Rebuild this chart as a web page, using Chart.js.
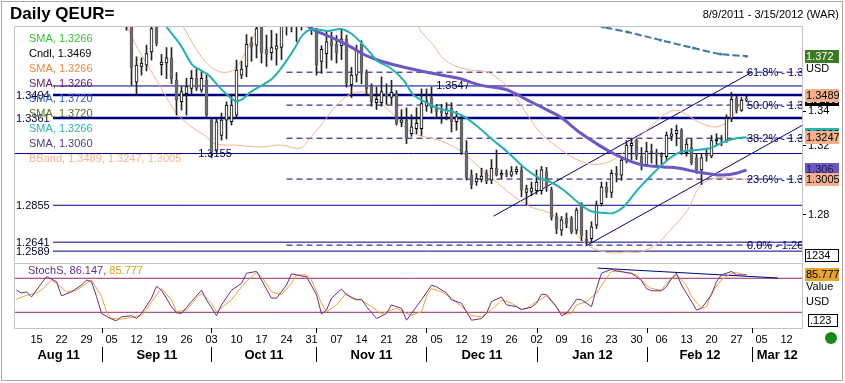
<!DOCTYPE html>
<html>
<head>
<meta charset="utf-8">
<script src="https://cdn.jsdelivr.net/npm/chart.js@4.4.1/dist/chart.umd.min.js"></script>
<style>
html, body { margin: 0; padding: 0; background: #fff; }
#wrap { position: relative; width: 845px; height: 383px; overflow: hidden; background: #fff; }
#main { position: absolute; left: 0; top: 0; }
#stoch { position: absolute; left: 0; top: 262px; }
#frame { position: absolute; left: 1px; top: 1px; width: 842px; height: 380px; box-sizing: border-box; border: 1px solid #a8a8a8; pointer-events: none; }
</style>
</head>
<body>
<div id="wrap">
  <canvas id="main" width="845" height="262"></canvas>
  <canvas id="stoch" width="845" height="121"></canvas>
  <div id="frame"></div>
</div>
<script>
// trading day index: 0 = Tue 9 Aug 2011 ... 157 = Thu 15 Mar 2012
const firstCandleDay = 22;
const opens = [
  1.4050, 1.3930, 1.3569, 1.3660, 1.3668, 1.3745, 1.3900, 1.3670, 1.3680, 1.3710,
  1.3581, 1.3456, 1.3502, 1.3533, 1.3592, 1.3523, 1.3581, 1.3349, 1.3175, 1.3260,
  1.3349, 1.3340, 1.3378, 1.3610, 1.3660, 1.3800, 1.3784, 1.3900, 1.3760, 1.3740,
  1.3760, 1.3770, 1.3910, 1.3930, 1.3900, 1.3910, 1.4150, 1.4140, 1.3860, 1.3690,
  1.3735, 1.3810, 1.3790, 1.3780, 1.3820, 1.3555, 1.3610, 1.3790, 1.3625, 1.3543,
  1.3450, 1.3450, 1.3500, 1.3480, 1.3505, 1.3335, 1.3349, 1.3270, 1.3300, 1.3300,
  1.3430, 1.3480, 1.3420, 1.3400, 1.3385, 1.3420, 1.3340, 1.3355, 1.3170, 1.3030,
  1.2990, 1.3005, 1.3040, 1.3000, 1.3070, 1.3030, 1.3040, 1.3030, 1.3050, 1.3059,
  1.2930, 1.2935, 1.2940, 1.2940, 1.3050, 1.2945, 1.2790, 1.2710, 1.2780, 1.2780,
  1.2711, 1.2860, 1.2660, 1.2662, 1.2740, 1.2865, 1.2960, 1.2930, 1.3040, 1.3030,
  1.3117, 1.3200, 1.3230, 1.3140, 1.3090, 1.3170, 1.3160, 1.3150, 1.3137, 1.3255,
  1.3270, 1.3290, 1.3160, 1.3190, 1.3130, 1.3060, 1.3150, 1.3140, 1.3230, 1.3240,
  1.3233, 1.3360, 1.3475, 1.3405, 1.3465
];
const highs = [
  1.4120, 1.3980, 1.3716, 1.3710, 1.3784, 1.3900, 1.3920, 1.3730, 1.3770, 1.3770,
  1.3625, 1.3543, 1.3592, 1.3637, 1.3650, 1.3630, 1.3610, 1.3365, 1.3358, 1.3390,
  1.3455, 1.3495, 1.3697, 1.3690, 1.3845, 1.3830, 1.3900, 1.3920, 1.3842, 1.3870,
  1.3850, 1.3960, 1.3990, 1.3990, 1.3960, 1.4247, 1.4170, 1.4160, 1.3880, 1.3780,
  1.3870, 1.3860, 1.3840, 1.3880, 1.3842, 1.3655, 1.3784, 1.3810, 1.3640, 1.3560,
  1.3540, 1.3600, 1.3560, 1.3580, 1.3520, 1.3410, 1.3420, 1.3380, 1.3420, 1.3530,
  1.3530, 1.3540, 1.3440, 1.3440, 1.3450, 1.3450, 1.3400, 1.3380, 1.3230, 1.3060,
  1.3040, 1.3070, 1.3060, 1.3120, 1.3175, 1.3060, 1.3060, 1.3080, 1.3080, 1.3080,
  1.2972, 1.2990, 1.3060, 1.3080, 1.3075, 1.2960, 1.2810, 1.2790, 1.2810, 1.2790,
  1.2840, 1.2870, 1.2710, 1.2760, 1.2880, 1.2990, 1.2990, 1.3060, 1.3080, 1.3130,
  1.3230, 1.3240, 1.3240, 1.3190, 1.3220, 1.3210, 1.3180, 1.3160, 1.3280, 1.3300,
  1.3320, 1.3300, 1.3240, 1.3240, 1.3150, 1.3150, 1.3180, 1.3260, 1.3270, 1.3260,
  1.3380, 1.3510, 1.3490, 1.3480, 1.3490
];
const lows = [
  1.3870, 1.3552, 1.3494, 1.3610, 1.3634, 1.3697, 1.3780, 1.3610, 1.3590, 1.3560,
  1.3378, 1.3407, 1.3378, 1.3502, 1.3520, 1.3510, 1.3368, 1.3130, 1.3160, 1.3233,
  1.3240, 1.3320, 1.3368, 1.3590, 1.3600, 1.3690, 1.3710, 1.3680, 1.3660, 1.3697,
  1.3668, 1.3700, 1.3842, 1.3860, 1.3803, 1.3871, 1.4100, 1.3845, 1.3610, 1.3620,
  1.3650, 1.3697, 1.3680, 1.3700, 1.3540, 1.3480, 1.3570, 1.3560, 1.3500, 1.3430,
  1.3410, 1.3430, 1.3440, 1.3440, 1.3320, 1.3310, 1.3213, 1.3255, 1.3270, 1.3260,
  1.3400, 1.3390, 1.3360, 1.3330, 1.3350, 1.3280, 1.3290, 1.3150, 1.3001, 1.2950,
  1.2970, 1.2990, 1.2980, 1.2980, 1.3025, 1.3010, 1.3020, 1.3020, 1.3035, 1.2905,
  1.2856, 1.2910, 1.2920, 1.2920, 1.2935, 1.2769, 1.2690, 1.2680, 1.2725, 1.2690,
  1.2690, 1.2650, 1.2624, 1.2640, 1.2720, 1.2850, 1.2900, 1.2900, 1.2990, 1.3000,
  1.3100, 1.3120, 1.3120, 1.3060, 1.3080, 1.3100, 1.3080, 1.3080, 1.3110, 1.3230,
  1.3200, 1.3150, 1.3140, 1.3090, 1.3040, 1.2975, 1.3110, 1.3130, 1.3200, 1.3200,
  1.3220, 1.3340, 1.3390, 1.3400, 1.3455
];
const closes = [
  1.3930, 1.3655, 1.3668, 1.3680, 1.3735, 1.3880, 1.3794, 1.3685, 1.3710, 1.3590,
  1.3465, 1.3514, 1.3543, 1.3592, 1.3533, 1.3592, 1.3378, 1.3163, 1.3339, 1.3349,
  1.3436, 1.3436, 1.3639, 1.3645, 1.3790, 1.3770, 1.3880, 1.3740, 1.3730, 1.3770,
  1.3780, 1.3910, 1.3930, 1.3900, 1.3910, 1.4150, 1.4140, 1.3880, 1.3668, 1.3760,
  1.3803, 1.3780, 1.3740, 1.3820, 1.3563, 1.3610, 1.3755, 1.3620, 1.3530, 1.3456,
  1.3470, 1.3514, 1.3490, 1.3510, 1.3330, 1.3350, 1.3243, 1.3310, 1.3330, 1.3445,
  1.3460, 1.3420, 1.3400, 1.3390, 1.3410, 1.3340, 1.3370, 1.3160, 1.3015, 1.2975,
  1.3010, 1.3025, 1.2995, 1.3070, 1.3030, 1.3040, 1.3035, 1.3050, 1.3065, 1.2943,
  1.2950, 1.2955, 1.2990, 1.3060, 1.2960, 1.2785, 1.2720, 1.2770, 1.2750, 1.2700,
  1.2827, 1.2680, 1.2650, 1.2730, 1.2856, 1.2962, 1.2930, 1.3040, 1.3030, 1.3117,
  1.3204, 1.3215, 1.3140, 1.3090, 1.3170, 1.3160, 1.3150, 1.3137, 1.3262, 1.3270,
  1.3290, 1.3160, 1.3210, 1.3100, 1.3060, 1.3130, 1.3140, 1.3230, 1.3240, 1.3233,
  1.3360, 1.3470, 1.3405, 1.3465, 1.3469
];

// moving averages and bands, read at points along each curve
const sma20Days = [27, 29.8, 32.8, 35.2, 36.8, 38.4, 40.2, 42.2, 43.8, 45.2, 46.8, 48.8, 50.8, 52.8, 55.4, 57.4, 59.4, 62.2, 64.8, 66.8, 68.8, 70.8, 72.2, 74.8, 77.4, 79.4, 81.4, 84.2, 87.4, 90, 92.8, 94.8, 98.2, 101.4, 104.2, 106.8, 109.4, 112.2, 114.8, 117.8, 119.4, 121.4, 124.2, 127.4, 130.2, 132.8, 136.2, 138.8, 141.4, 144.2, 146];
const sma20Vals = [1.405, 1.3900, 1.3784, 1.3668, 1.3639, 1.3610, 1.3552, 1.3494, 1.3459, 1.3471, 1.3511, 1.3546, 1.3581, 1.3645, 1.3755, 1.3848, 1.3877, 1.3865, 1.3877, 1.3854, 1.3802, 1.3738, 1.3691, 1.3651, 1.3581, 1.3494, 1.3459, 1.3419, 1.3396, 1.3361, 1.3297, 1.3245, 1.3164, 1.3077, 1.3019, 1.2990, 1.2944, 1.2874, 1.2822, 1.2810, 1.2810, 1.2845, 1.2944, 1.3042, 1.3118, 1.3164, 1.3176, 1.3187, 1.3222, 1.3245, 1.3250];
const sma50Days = [54, 58.8, 62.8, 66.2, 70.2, 74.2, 78.2, 82.8, 88.2, 92.8, 98.2, 102.2, 106.2, 108.8, 112.8, 116.8, 118.8, 122.2, 125.4, 129.4, 132.2, 136.2, 138.8, 141.4, 144.2, 146];
const sma50Vals = [1.400, 1.3883, 1.3831, 1.3784, 1.3720, 1.3680, 1.3651, 1.3622, 1.3593, 1.3552, 1.3523, 1.3465, 1.3407, 1.3367, 1.3274, 1.3198, 1.3164, 1.3117, 1.3088, 1.3077, 1.3071, 1.3048, 1.3036, 1.3030, 1.3042, 1.3060];
const sma200Days = [112, 117.4, 122.2, 128.8, 135.4, 140.8, 146];
const sma200Vals = [1.393, 1.3889, 1.3860, 1.3813, 1.3767, 1.3732, 1.3720];
const bbUpDays = [30.5, 33.4, 35.8, 38.2, 40.8, 43.4, 45.8, 48.2, 52, 77, 80.4, 83.4, 85.2, 87.8, 90.8, 94.2, 97.4, 99.8, 102.2, 104.8, 108.2, 111.4, 114.8, 117.8, 120.8, 123.8, 126.8, 129.4, 131.8, 134.2, 136.8, 139.8, 142.2, 144.2, 146];
const bbUpVals = [1.405, 1.3889, 1.3767, 1.3674, 1.3628, 1.3639, 1.3744, 1.3889, 1.425, 1.425, 1.3889, 1.3784, 1.3709, 1.3662, 1.3639, 1.3628, 1.3564, 1.3483, 1.3378, 1.3274, 1.3193, 1.3129, 1.3094, 1.3100, 1.3146, 1.3233, 1.3309, 1.3378, 1.3407, 1.3378, 1.3332, 1.3309, 1.3338, 1.3419, 1.3489];
const bbLoDays = [20, 22.2, 24.2, 26.8, 29.2, 31.8, 34.8, 37.8, 39.8, 43.8, 48.8, 52.8, 56.8, 59.2, 61.2, 63.8, 66.8, 69.8, 72.8, 75.8, 78.8, 81.8, 84.8, 88.8, 92.8, 96.2, 99.8, 102.8, 106.2, 108.8, 111.8, 114.8, 118.8, 121.8, 124.8, 127.8, 130.8, 134.2, 136.8, 139.8, 142.8, 146];
const bbLoVals = [1.400, 1.3883, 1.3767, 1.3639, 1.3523, 1.3396, 1.3314, 1.3257, 1.3210, 1.3204, 1.3193, 1.3204, 1.3187, 1.3262, 1.3330, 1.3430, 1.3500, 1.3510, 1.3450, 1.3370, 1.3280, 1.3250, 1.3230, 1.3170, 1.3070, 1.2984, 1.2900, 1.2845, 1.2816, 1.2769, 1.2690, 1.2613, 1.2578, 1.2584, 1.2584, 1.2624, 1.2711, 1.2827, 1.2972, 1.3013, 1.3013, 1.3005];

// support / resistance levels and Fibonacci retracement
const levelVals = [1.3547, 1.3494, 1.3361, 1.3155, 1.2855, 1.2641, 1.2589];
const levelStartDay = [7.3, 7.3, 7.3, -0.3, 7.3, 7.3, 7.3];
const fibNames = ['61.8%', '50.0%', '38.2%', '23.6%', '0.0%'];
const fibVals = [1.3627, 1.3436, 1.3244, 1.3007, 1.2624];
const fibStartDay = 54;
const upperChannelDays = [95.4, 146.8];
const upperChannelVals = [1.2792, 1.3622];
const lowerChannelDays = [113.8, 157.1];
const lowerChannelVals = [1.2618, 1.3318];
const priceTicks = [1.28, 1.32, 1.34];

// slow stochastic
const kDays = [0, 1, 2, 3, 4, 6, 8, 9, 11, 13, 14, 15, 16, 17, 19, 20, 21, 23, 24, 25, 27, 28, 29, 31, 32, 33, 35, 37, 38, 40, 41, 43, 45, 46, 48, 49, 51, 52, 54, 55, 57, 58, 60, 61, 62, 63, 65, 66, 68, 69, 70, 72, 74, 75, 77, 78, 79, 81, 83, 84, 86, 87, 89, 90, 91, 93, 94, 95, 97, 98, 100, 101, 103, 104, 105, 106, 108, 109, 110, 111, 112, 113, 115, 116, 117, 119, 120, 122, 123, 125, 126, 127, 129, 130, 131, 132, 133, 135, 136, 137, 139, 140, 141, 143, 144, 145, 146];
const kVals = [59, 54, 56, 47, 59, 83, 74, 49, 56, 68, 77, 74, 48, 18, 8, 5, 12, 14, 9, 18, 45, 66, 59, 30, 19, 18, 39, 59, 42, 14, 33, 59, 71, 89, 92, 77, 45, 45, 68, 88, 84, 83, 51, 17, 24, 45, 61, 51, 42, 43, 30, 9, 18, 33, 27, 6, 18, 42, 68, 65, 54, 42, 36, 21, 6, 9, 18, 39, 47, 33, 30, 25, 29, 36, 52, 51, 30, 14, 18, 30, 43, 42, 30, 62, 89, 96, 93, 90, 89, 76, 62, 58, 58, 65, 80, 89, 68, 39, 24, 27, 51, 74, 86, 92, 86, 86, 86.1];
const dDays = [0, 2, 4, 5, 7, 8, 10, 12, 14, 15, 17, 18, 19, 21, 23, 25, 26, 28, 29, 31, 32, 34, 36, 37, 39, 40, 43, 45, 47, 48, 49, 51, 53, 55, 56, 58, 59, 61, 62, 64, 66, 67, 69, 71, 73, 74, 76, 78, 79, 81, 82, 83, 85, 87, 89, 91, 93, 95, 97, 99, 101, 102, 104, 106, 107, 109, 111, 112, 114, 116, 118, 119, 121, 122, 124, 126, 127, 129, 130, 132, 134, 135, 137, 138, 139, 141, 143, 144, 146];
const dVals = [43, 50, 54, 59, 77, 71, 56, 59, 71, 77, 48, 21, 9, 8, 11, 14, 25, 51, 62, 42, 21, 24, 45, 54, 36, 21, 42, 65, 83, 90, 83, 56, 51, 71, 86, 86, 77, 36, 21, 33, 54, 45, 41, 30, 17, 21, 27, 18, 15, 21, 48, 62, 56, 45, 30, 14, 12, 24, 42, 36, 25, 27, 39, 49, 39, 18, 17, 33, 39, 54, 80, 92, 93, 90, 86, 68, 62, 59, 71, 86, 68, 48, 27, 30, 54, 77, 89, 90, 85.8];
const stochLevels = [80, 20];
const stochTrendDays = [116.2, 152.3];
const stochTrendVals = [98, 80.5];

// axis labels
const tickDays = [4, 9, 14, 19, 24, 29, 34, 39, 44, 49, 54, 59, 64, 69, 74, 79, 84, 89, 94, 99, 104, 109, 114, 119, 124, 129, 134, 139, 144, 149, 154];
const tickLabels = ['15', '22', '29', '05', '12', '19', '26', '03', '10', '17', '24', '31', '07', '14', '21', '28', '05', '12', '19', '26', '02', '09', '16', '23', '30', '06', '13', '20', '27', '05', '12'];
const monthStartDays = [17, 39, 60, 82, 104, 126, 147];
const monthLabels = ['Aug 11', 'Sep 11', 'Oct 11', 'Nov 11', 'Dec 11', 'Jan 12', 'Feb 12', 'Mar 12'];

const X_MIN = -0.3, X_MAX = 157.1;
const FONT = "'Liberation Sans', Arial, sans-serif";
const NAVY = '#000080';

function pairs(days, vals) {
    return days.map((d, k) => ({ x: d, y: vals[k] }));
}
function isUp(c) {
    return c.raw && c.raw.y[1] >= c.raw.y[0];
}
// 축 라벨 때문에 생기는 여백 제거
function fixWidth(w) {
    return s => { s.width = w; s.paddingTop = 0; s.paddingBottom = 0; };
}

// 캔들 데이터
const wickData = highs.map((h, k) => ({ x: firstCandleDay + k, y: [lows[k], h] }));
const bodyData = opens.map((o, k) => ({ x: firstCandleDay + k, y: [o, closes[k]] }));

const mainDatasets = [];

// 수평 지지/저항선
levelVals.forEach((v, k) => {
    const thick = (v === 1.3494 || v === 1.3361);
    mainDatasets.push({
        type: 'line', label: 'level' + k, order: 20,
        data: [{ x: levelStartDay[k], y: v }, { x: X_MAX, y: v }],
        borderColor: NAVY, borderWidth: thick ? 2.5 : 1,
        pointRadius: 0, clip: 0,
        isLastLevel: k === levelVals.length - 1
    });
});

// 피보나치 점선
fibVals.forEach((v, k) => {
    mainDatasets.push({
        type: 'line', label: 'fib' + k, order: 19,
        data: [{ x: fibStartDay, y: v }, { x: X_MAX, y: v }],
        borderColor: NAVY, borderWidth: 1, borderDash: [6, 4],
        pointRadius: 0, clip: 0
    });
});

// 채널
mainDatasets.push({
    type: 'line', label: 'chanUp', order: 18,
    data: pairs(upperChannelDays, upperChannelVals),
    borderColor: NAVY, borderWidth: 1, pointRadius: 0, clip: 0
});
mainDatasets.push({
    type: 'line', label: 'chanLo', order: 18,
    data: pairs(lowerChannelDays, lowerChannelVals),
    borderColor: NAVY, borderWidth: 1, pointRadius: 0, clip: 0
});

// 볼린저 밴드
mainDatasets.push({
    type: 'line', label: 'bbUp', order: 7,
    data: pairs(bbUpDays, bbUpVals),
    borderColor: '#f3b28e', borderWidth: 1, pointRadius: 0, tension: 0.3, clip: 0
});
mainDatasets.push({
    type: 'line', label: 'bbLo', order: 7,
    data: pairs(bbLoDays, bbLoVals),
    borderColor: '#f3b28e', borderWidth: 1, pointRadius: 0, tension: 0.3, clip: 0
});

// 캔들 (꼬리 + 몸통)
mainDatasets.push({
    type: 'bar', label: 'wick', order: 6, grouped: false,
    data: wickData, barThickness: 1,
    backgroundColor: '#222222', borderWidth: 0
});
mainDatasets.push({
    type: 'bar', label: 'body', order: 5, grouped: false,
    data: bodyData, barThickness: 3, minBarLength: 1,
    backgroundColor: c => isUp(c) ? '#ffffff' : '#6c6c6c',
    borderColor: c => isUp(c) ? '#000000' : '#5c5c5c',
    borderWidth: 1, borderSkipped: false
});

// 이동평균선
mainDatasets.push({
    type: 'line', label: 'sma200', order: 3,
    data: pairs(sma200Days, sma200Vals),
    borderColor: '#3a76a8', borderWidth: 2, borderDash: [7, 3],
    pointRadius: 1.5, pointBackgroundColor: '#3a76a8', pointBorderWidth: 0,
    tension: 0.3, clip: 0
});
mainDatasets.push({
    type: 'line', label: 'sma50', order: 2,
    data: pairs(sma50Days, sma50Vals),
    borderColor: '#6b58c4', borderWidth: 3, pointRadius: 0, tension: 0.3, clip: 0
});
mainDatasets.push({
    type: 'line', label: 'sma20', order: 1,
    data: pairs(sma20Days, sma20Vals),
    borderColor: '#22b3b0', borderWidth: 2, pointRadius: 0, tension: 0.3, clip: 0
});

function drawText(ctx, s, x, y, color, font, align) {
    ctx.font = font;
    ctx.fillStyle = color;
    ctx.textAlign = align || 'left';
    ctx.textBaseline = 'middle';
    ctx.fillText(s, x, y);
}
function priceBox(ctx, yc, s, bg, fg, border) {
    ctx.fillStyle = bg;
    ctx.fillRect(805, Math.round(yc - 6.5), 34, 13);
    if (border) {
        ctx.strokeStyle = border;
        ctx.lineWidth = 1;
        ctx.strokeRect(805.5, Math.round(yc - 6.5) + 0.5, 33, 12);
    }
    drawText(ctx, s, 806, yc + 0.5, fg, '11px ' + FONT);
}

const legendRows = [
    ['SMA, 1.3266', '#33c333'],
    ['Cndl, 1.3469', '#000000'],
    ['SMA, 1.3266', '#e88a3c'],
    ['SMA, 1.3266', '#6a1a6a'],
    ['SMA, 1.3720', '#3858c8'],
    ['SMA, 1.3720', '#5d6b1e'],
    ['SMA, 1.3266', '#2ab3b0'],
    ['SMA, 1.3060', '#4b3c8c'],
    ['BBand, 1.3489, 1.3247, 1.3005', '#f2b594']
];

const mainDecor = {
    id: 'mainDecor',
    afterDatasetDraw(chart, args) {
        const ds = chart.data.datasets[args.index];
        if (!ds.isLastLevel) return;
        const ctx = chart.ctx;
        const xs = chart.scales.x, ys = chart.scales.y;
        const midLabels = { 0: 87.3, 3: 39.7 };
        ctx.save();
        levelVals.forEach((v, k) => {
            const py = ys.getPixelForValue(v);
            const s = v.toFixed(4);
            ctx.font = '11px ' + FONT;
            const w = ctx.measureText(s).width;
            let px = chart.chartArea.left + 1;
            if (k in midLabels) {
                px = xs.getPixelForValue(midLabels[k]) - w / 2;
                ctx.fillStyle = '#ffffff';
                ctx.fillRect(px - 3, py - 3, w + 6, 6);
            }
            drawText(ctx, s, px, py + 0.5, '#000033', '11px ' + FONT);
        });
        ctx.restore();
    },
    afterDatasetsDraw(chart) {
        const ctx = chart.ctx, a = chart.chartArea;
        const xs = chart.scales.x, ys = chart.scales.y;
        ctx.save();
        ctx.beginPath();
        ctx.rect(a.left, a.top, a.right - a.left, a.bottom - a.top);
        ctx.clip();
        fibVals.forEach((v, k) => {
            drawText(ctx, fibNames[k] + ' - ' + v.toFixed(4), xs.getPixelForValue(146.1), ys.getPixelForValue(v) + 0.5, '#000066', '11px ' + FONT);
        });
        ctx.restore();
    },
    afterDraw(chart) {
        const ctx = chart.ctx, a = chart.chartArea;
        const ys = chart.scales.y;
        ctx.save();
        // 차트 테두리
        ctx.strokeStyle = '#c4c4c4';
        ctx.lineWidth = 1;
        ctx.strokeRect(a.left - 0.5, a.top - 0.5, a.right - a.left + 1, a.bottom - a.top + 1);
        // 제목
        drawText(ctx, 'Daily QEUR=', 10, 14, '#000000', 'bold 17px ' + FONT);
        drawText(ctx, '8/9/2011 - 3/15/2012 (WAR)', 839, 15, '#000000', '11px ' + FONT, 'right');
        // 범례
        legendRows.forEach((r, k) => {
            drawText(ctx, r[0], 29, 39 + k * 15, r[1], '11px ' + FONT);
        });
        // 오른쪽 값 표시
        priceBox(ctx, ys.getPixelForValue(1.372), '1.372', '#3e7a22', '#ffffff');
        drawText(ctx, 'USD', 806, 69, '#000000', '11px ' + FONT);
        priceBox(ctx, ys.getPixelForValue(1.3469), '1.3469', '#000000', '#ffffff');
        priceBox(ctx, ys.getPixelForValue(1.3489), '1.3489', '#f4b08c', '#000000');
        priceBox(ctx, ys.getPixelForValue(1.3266), '1.3266', '#2ab3b0', '#000000');
        priceBox(ctx, ys.getPixelForValue(1.3247), '1.3247', '#f4b08c', '#000000');
        priceBox(ctx, ys.getPixelForValue(1.306), '1.306', '#6b58c4', '#1a1a40');
        priceBox(ctx, ys.getPixelForValue(1.3005), '1.3005', '#f4b08c', '#000000');
        priceBox(ctx, 255, '1234', '#ffffff', '#000000', '#000000');
        ctx.restore();
    }
};

new Chart(document.getElementById('main'), {
    type: 'bar',
    data: { datasets: mainDatasets },
    options: {
        responsive: false,
        animation: false,
        events: [],
        layout: { autoPadding: false, padding: { left: 15, top: 27, right: 0, bottom: 0 } },
        plugins: { legend: { display: false }, tooltip: { enabled: false } },
        scales: {
            x: { type: 'linear', min: X_MIN, max: X_MAX, display: false, offset: false },
            y: {
                type: 'linear', position: 'right', min: 1.2526, max: 1.3889,
                afterFit: fixWidth(43),
                afterBuildTicks: s => { s.ticks = priceTicks.map(v => ({ value: v })); },
                grid: { drawOnChartArea: false, drawTicks: true, tickLength: 4, color: '#000000' },
                border: { display: false },
                ticks: { callback: v => v.toFixed(2), font: { size: 11, family: FONT }, color: '#000000', padding: 2 }
            }
        }
    },
    plugins: [mainDecor]
});

// 스토캐스틱 패널
const stochDatasets = [];
stochLevels.forEach(v => {
    stochDatasets.push({
        data: [{ x: X_MIN, y: v }, { x: X_MAX, y: v }],
        borderColor: '#9a2a66', borderWidth: 1, pointRadius: 0, order: 5
    });
});
stochDatasets.push({
    data: pairs(stochTrendDays, stochTrendVals),
    borderColor: NAVY, borderWidth: 1, pointRadius: 0, order: 4, clip: 0
});
stochDatasets.push({
    data: pairs(dDays, dVals),
    borderColor: '#eaa52c', borderWidth: 1, pointRadius: 0, order: 3
});
stochDatasets.push({
    data: pairs(kDays, kVals),
    borderColor: '#6e2a8c', borderWidth: 1, pointRadius: 0, order: 2
});

const stochDecor = {
    id: 'stochDecor',
    afterDraw(chart) {
        const ctx = chart.ctx, a = chart.chartArea, xs = chart.scales.x;
        ctx.save();
        ctx.strokeStyle = '#c4c4c4';
        ctx.lineWidth = 1;
        ctx.strokeRect(a.left - 0.5, a.top - 0.5, a.right - a.left + 1, a.bottom - a.top + 1);
        // 범례
        ctx.font = '11px ' + FONT;
        let tx = 28;
        [['StochS, ', '#6e2a8c'], ['86.147, ', '#6e2a8c'], ['85.777', '#e0a020']].forEach(p => {
            drawText(ctx, p[0], tx, 9, p[1], '11px ' + FONT);
            tx += ctx.measureText(p[0]).width;
        });
        // 오른쪽 값
        priceBox(ctx, 12, '85.777', '#e6a52e', '#000000');
        drawText(ctx, 'Value', 806, 25, '#000000', '11px ' + FONT);
        drawText(ctx, 'USD', 806, 40, '#000000', '11px ' + FONT);
        ctx.fillStyle = '#ffffff';
        ctx.fillRect(808, 52, 30, 13);
        ctx.strokeStyle = '#000000';
        ctx.strokeRect(808.5, 52.5, 29, 12);
        drawText(ctx, '.123', 810, 59, '#000000', '11px ' + FONT);
        // 월 구분선과 라벨
        const seps = monthStartDays.map(d => Math.round(xs.getPixelForValue(d)) + 0.5);
        ctx.strokeStyle = '#000000';
        seps.forEach(x => {
            ctx.beginPath();
            ctx.moveTo(x, a.bottom); ctx.lineTo(x, a.bottom + 5);
            ctx.moveTo(x, 85); ctx.lineTo(x, 100);
            ctx.stroke();
        });
        const edges = [a.left].concat(seps, [a.right]);
        monthLabels.forEach((m, k) => {
            drawText(ctx, m, (edges[k] + edges[k + 1]) / 2, 93, '#000000', 'bold 13px ' + FONT, 'center');
        });
        // 상태 표시
        ctx.fillStyle = '#138a13';
        ctx.beginPath();
        ctx.arc(831, 76, 6, 0, Math.PI * 2);
        ctx.fill();
        ctx.restore();
    }
};

new Chart(document.getElementById('stoch'), {
    type: 'line',
    data: { datasets: stochDatasets },
    options: {
        responsive: false,
        animation: false,
        events: [],
        layout: { autoPadding: false, padding: { left: 15, top: 2, right: 0, bottom: 0 } },
        plugins: { legend: { display: false }, tooltip: { enabled: false } },
        elements: { line: { tension: 0 } },
        scales: {
            x: {
                type: 'linear', min: X_MIN, max: X_MAX, position: 'bottom',
                afterFit: s => { s.height = 55; s.paddingLeft = 0; s.paddingRight = 0; },
                afterBuildTicks: s => { s.ticks = tickDays.map(v => ({ value: v })); },
                grid: { display: false, drawTicks: false },
                border: { display: false },
                ticks: {
                    autoSkip: false, maxRotation: 0, padding: 5,
                    font: { size: 11, family: FONT }, color: '#000000',
                    callback: (v, i) => tickLabels[i]
                }
            },
            y: {
                type: 'linear', position: 'right', min: -7.7, max: 105.2,
                afterFit: fixWidth(43),
                grid: { display: false }, border: { display: false },
                ticks: { display: false }
            }
        }
    },
    plugins: [stochDecor]
});
</script>
</body>
</html>
